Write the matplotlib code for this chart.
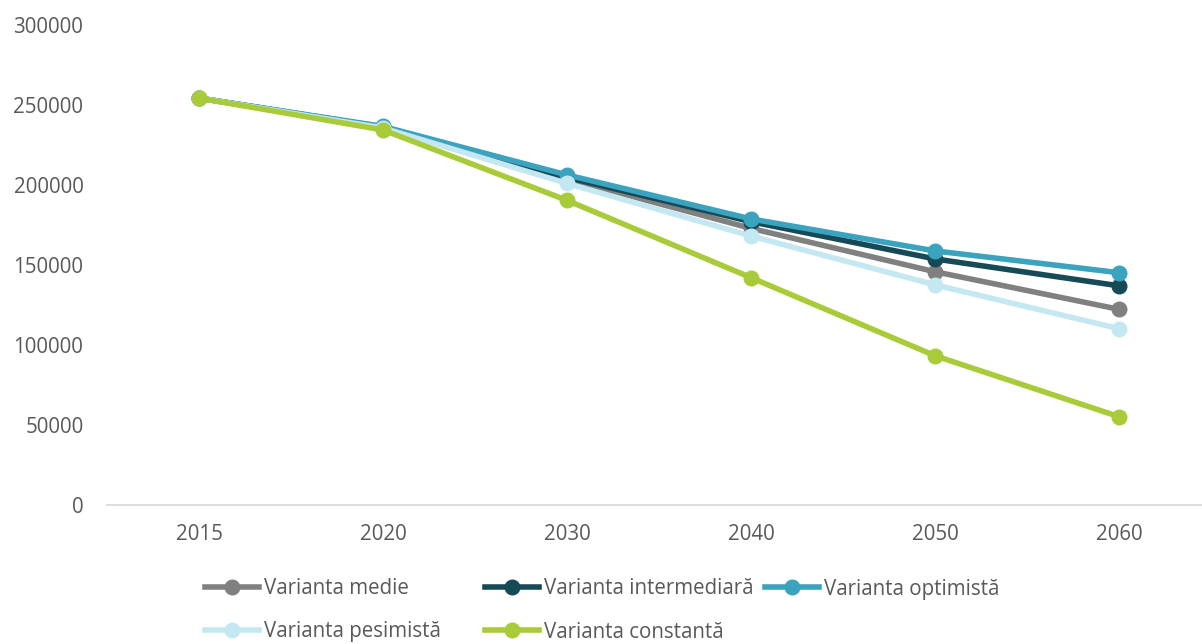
import matplotlib
matplotlib.use("Agg")
import matplotlib.pyplot as plt
from matplotlib.lines import Line2D

# data
years = ['2015', '2020', '2030', '2040', '2050', '2060']
medie = [254300, 236000, 203800, 172900, 145800, 122300]
intermediara = [254300, 236200, 204800, 177100, 153800, 137000]
optimista = [254300, 236600, 206300, 178800, 158800, 145200]
pesimista = [254300, 235600, 201000, 168100, 137600, 110200]
constanta = [254300, 234400, 190400, 142100, 93300, 55200]

labels = ['Varianta medie', 'Varianta intermediară', 'Varianta optimistă',
          'Varianta pesimistă', 'Varianta constantă']
colors = ['#808080', '#174A57', '#3BA3BE', '#C4E8F1', '#A9CB39']
series = [medie, intermediara, optimista, pesimista, constanta]

text_col = '#595959'
fs = 14.8
plt.rcParams['font.family'] = ['Open Sans', 'DejaVu Sans']

fig = plt.figure(figsize=(12.02, 6.44), dpi=100)
ax = fig.add_axes([107 / 1202, 139 / 644, 1104 / 1202, 480 / 644])

x = list(range(len(years)))
lines = []
for vals, col, lab in zip(series, colors, labels):
    ln, = ax.plot(x, vals, color=col, lw=4, marker='o', ms=10.5,
                  label=lab, solid_joinstyle='round', clip_on=False)
    lines.append(ln)

ax.set_xlim(-0.5, 5.5)
ax.set_ylim(0, 300000)
ax.set_xticks(x)
ax.set_xticklabels(years)
ax.set_yticks(range(0, 300001, 50000))

for s in ['top', 'right', 'left']:
    ax.spines[s].set_visible(False)
ax.spines['bottom'].set_color('#D9D9D9')
ax.spines['bottom'].set_linewidth(1.3)
ax.tick_params(axis='both', length=0, labelsize=fs, labelcolor=text_col)
ax.tick_params(axis='y', pad=17)
ax.tick_params(axis='x', pad=14)

# legend entries placed like the Excel legend (fixed-width columns)
pos = [(205, 589), (485, 589), (765, 589), (205, 632), (485, 632)]
for ln, (px, py) in zip(lines, pos):
    h = Line2D([], [], color=ln.get_color(), lw=4, marker='o', ms=10.5)
    fig.legend(handles=[h], labels=[ln.get_label()], loc='center left',
               bbox_to_anchor=(px / 1202, 1 - py / 644), frameon=False,
               fontsize=fs, labelcolor=text_col, handlelength=2.65,
               handletextpad=0.2, borderpad=0, borderaxespad=0)

fig.savefig('out.png', dpi=100)
